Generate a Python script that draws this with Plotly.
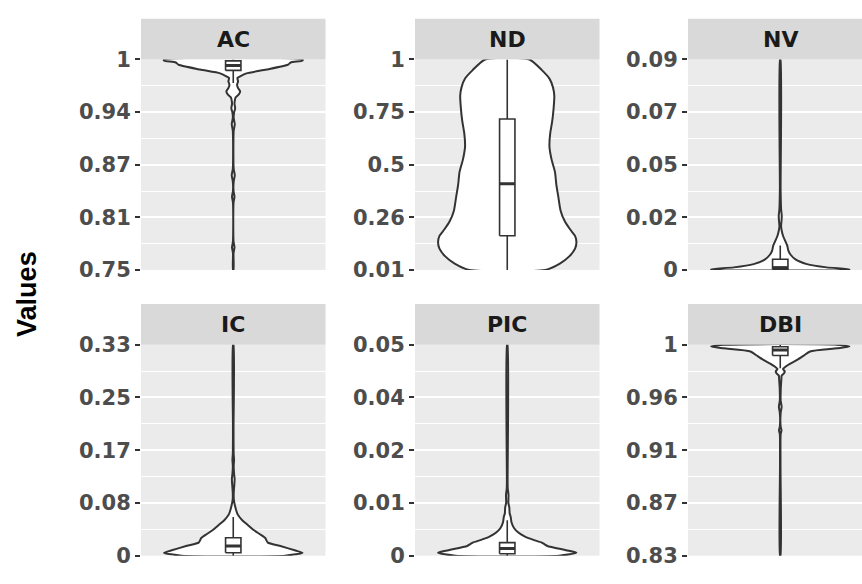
import plotly.graph_objects as go
import numpy as np

# ---- facet data: violin outline (value, relative half-width) and box statistics ----
panel_names = ["AC", "ND", "NV", "IC", "PIC", "DBI"]

ac_range = [0.75, 1.0]
ac_ticktext = ["0.75", "0.81", "0.87", "0.94", "1"]
ac_values = [0.750, 0.770, 0.777, 0.784, 0.830, 0.837, 0.844, 0.855, 0.8626, 0.870,
             0.915, 0.923, 0.931, 0.937, 0.942, 0.947, 0.950, 0.955, 0.9585, 0.962,
             0.966, 0.970, 0.974, 0.978, 0.980, 0.9835, 0.988, 0.9937, 0.9964, 0.9986, 1.0]
ac_widths = [0.004, 0.004, 0.018, 0.004, 0.004, 0.018, 0.004, 0.006, 0.022, 0.006,
             0.006, 0.022, 0.006, 0.012, 0.028, 0.018, 0.02, 0.035, 0.08, 0.10,
             0.07, 0.055, 0.07, 0.06, 0.10, 0.19, 0.48, 0.79, 0.83, 1.0, 1.0]
ac_box = dict(lower=0.972, q1=0.9870, median=0.9928, q3=0.9983, upper=1.0)

nd_range = [0.01, 1.0]
nd_ticktext = ["0.01", "0.26", "0.5", "0.75", "1"]
nd_values = [0.01, 0.04, 0.075, 0.11, 0.14, 0.17, 0.20, 0.24, 0.29, 0.35, 0.41,
             0.47, 0.53, 0.59, 0.65, 0.71, 0.77, 0.83, 0.87, 0.91, 0.95, 1.0]
nd_widths = [0.55, 0.76, 0.90, 0.98, 1.0, 0.98, 0.91, 0.83, 0.77, 0.74, 0.71,
             0.69, 0.64, 0.61, 0.62, 0.65, 0.67, 0.68, 0.66, 0.61, 0.50, 0.32]
nd_box = dict(lower=0.01, q1=0.171, median=0.415, q3=0.720, upper=1.0)

nv_range = [0.0, 0.09]
nv_ticktext = ["0", "0.02", "0.05", "0.07", "0.09"]
nv_values = [0.0, 0.0003, 0.0011, 0.0025, 0.0045, 0.0065, 0.0080, 0.0105, 0.0125,
             0.0146, 0.0170, 0.0187, 0.0210, 0.0230, 0.0260, 0.0300, 0.0350, 0.0900]
nv_widths = [0.96, 1.0, 0.67, 0.385, 0.22, 0.15, 0.12, 0.10, 0.07,
             0.04, 0.02, 0.012, 0.018, 0.022, 0.012, 0.008, 0.005, 0.004]
nv_box = dict(lower=0.0, q1=0.0002, median=0.0010, q3=0.0046, upper=0.0105)

ic_range = [0.0, 0.33]
ic_ticktext = ["0", "0.08", "0.17", "0.25", "0.33"]
ic_values = [0.0, 0.0045, 0.008, 0.0155, 0.0205, 0.028, 0.034, 0.0405, 0.048, 0.0555,
             0.0605, 0.0655, 0.072, 0.078, 0.088, 0.100, 0.112, 0.120, 0.128, 0.140,
             0.150, 0.160, 0.200, 0.330]
ic_widths = [0.75, 1.0, 0.90, 0.67, 0.50, 0.46, 0.38, 0.29, 0.21, 0.13,
             0.09, 0.06, 0.04, 0.025, 0.008, 0.008, 0.016, 0.02, 0.012, 0.006,
             0.012, 0.006, 0.004, 0.004]
ic_box = dict(lower=0.0, q1=0.0045, median=0.0150, q3=0.0280, upper=0.0605)

pic_range = [0.0, 0.05]
pic_ticktext = ["0", "0.01", "0.02", "0.04", "0.05"]
pic_values = [0.0, 0.0007, 0.0013, 0.0023, 0.0027, 0.0031, 0.0038, 0.0046, 0.0055,
              0.0065, 0.0080, 0.0092, 0.0100, 0.0114, 0.0125, 0.0144, 0.0160, 0.0180, 0.0500]
pic_widths = [0.75, 1.0, 0.85, 0.58, 0.54, 0.50, 0.37, 0.25, 0.16,
              0.10, 0.06, 0.05, 0.035, 0.03, 0.016, 0.018, 0.007, 0.005, 0.004]
pic_box = dict(lower=0.0, q1=0.00045, median=0.0017, q3=0.0031, upper=0.0084)

dbi_range = [0.83, 1.0]
dbi_ticktext = ["0.83", "0.87", "0.91", "0.96", "1"]
dbi_values = [0.830, 0.900, 0.928, 0.931, 0.934, 0.945, 0.950, 0.955, 0.965, 0.972,
              0.975, 0.977, 0.9785, 0.9805, 0.9825, 0.9848, 0.9880, 0.9913, 0.9946,
              0.9971, 0.9985, 1.0]
dbi_widths = [0.004, 0.004, 0.006, 0.018, 0.006, 0.006, 0.02, 0.006, 0.008, 0.016,
              0.02, 0.055, 0.065, 0.04, 0.08, 0.145, 0.25, 0.34, 0.43,
              0.82, 1.0, 0.82]
dbi_box = dict(lower=0.981, q1=0.9913, median=0.9957, q3=0.9984, upper=1.0)

panels = [
    ("AC", ac_range, ac_ticktext, ac_values, ac_widths, ac_box),
    ("ND", nd_range, nd_ticktext, nd_values, nd_widths, nd_box),
    ("NV", nv_range, nv_ticktext, nv_values, nv_widths, nv_box),
    ("IC", ic_range, ic_ticktext, ic_values, ic_widths, ic_box),
    ("PIC", pic_range, pic_ticktext, pic_values, pic_widths, pic_box),
    ("DBI", dbi_range, dbi_ticktext, dbi_values, dbi_widths, dbi_box),
]

# ---- layout geometry (pixels) ----
W, H = 862, 584
col_px = [(141, 325.5), (415, 599.5), (688, 872.5)]   # third column runs past the right edge
row_px = [(49.5, 269), (347, 567)]                     # (top, bottom) of plotting area
strip_h = 42.5
half_span = 0.45       # violin half-width at maximum density (x units)
box_w = 0.1

line_col = "#333333"
grid_col = "#FFFFFF"
panel_bg = "#EBEBEB"
strip_bg = "#D9D9D9"
tick_font = dict(family="DejaVu Sans", size=21, color="#4D4D4D", weight="bold")
strip_font = dict(family="DejaVu Sans", size=22, color="#1A1A1A", weight="bold")

fig = go.Figure()
layout = dict(
    width=W, height=H,
    margin=dict(l=0, r=0, t=0, b=0),
    paper_bgcolor="white",
    plot_bgcolor=panel_bg,
    showlegend=False,
)
shapes, annotations = [], []

for i, (name, yr, ttext, vals, wids, box) in enumerate(panels):
    r, c = divmod(i, 3)
    ax = "" if i == 0 else str(i + 1)
    xa, ya = "x" + ax, "y" + ax
    x0, x1 = col_px[c]
    y_top, y_bot = row_px[r]
    vis_x1 = min(x1, W)
    xmax = 0.4 + 1.2 * (vis_x1 - x0) / (x1 - x0)

    xd = [x0 / W, vis_x1 / W]
    yd = [(H - y_bot) / H, (H - y_top) / H]

    tickvals = list(np.linspace(yr[0], yr[1], 5))
    minor_vals = [(a + b) / 2 for a, b in zip(tickvals[:-1], tickvals[1:])]

    layout["xaxis" + ax] = dict(
        domain=xd, range=[0.4, xmax], anchor=ya,
        showticklabels=False, showgrid=False, zeroline=False, ticks="",
        fixedrange=True,
    )
    layout["yaxis" + ax] = dict(
        domain=yd, range=yr, anchor=xa,
        tickvals=tickvals, ticktext=ttext, tickfont=tick_font,
        ticks="outside", ticklen=5, tickwidth=1.5, tickcolor=line_col,
        showgrid=True, gridcolor=grid_col, gridwidth=1.5,
        minor=dict(tickvals=minor_vals, showgrid=True, gridcolor=grid_col,
                   gridwidth=0.8, ticks=""),
        zeroline=False, showline=False, fixedrange=True,
    )

    # violin outline: up the left side, down the right side
    v = np.array(vals)
    w = np.array(wids)
    xs = np.concatenate([1 - half_span * w, (1 + half_span * w)[::-1]])
    ys = np.concatenate([v, v[::-1]])
    fig.add_trace(go.Scatter(
        x=np.append(xs, xs[0]), y=np.append(ys, ys[0]),
        mode="lines", fill="toself", fillcolor="white",
        line=dict(color=line_col, width=2, shape="spline", smoothing=0.6),
        xaxis=xa, yaxis=ya, hoverinfo="skip",
    ))

    # whiskers
    fig.add_trace(go.Scatter(
        x=[1, 1, None, 1, 1],
        y=[box["q3"], box["upper"], None, box["q1"], box["lower"]],
        mode="lines", line=dict(color=line_col, width=1.6),
        xaxis=xa, yaxis=ya, hoverinfo="skip",
    ))
    # interquartile box
    bl, br = 1 - box_w / 2, 1 + box_w / 2
    fig.add_trace(go.Scatter(
        x=[bl, br, br, bl, bl],
        y=[box["q1"], box["q1"], box["q3"], box["q3"], box["q1"]],
        mode="lines", fill="toself", fillcolor="white",
        line=dict(color=line_col, width=1.6),
        xaxis=xa, yaxis=ya, hoverinfo="skip",
    ))
    # heavier median bar
    fig.add_trace(go.Scatter(
        x=[bl, br], y=[box["median"], box["median"]],
        mode="lines", line=dict(color=line_col, width=3),
        xaxis=xa, yaxis=ya, hoverinfo="skip",
    ))

    # facet strip
    shapes.append(dict(
        type="rect", xref="paper", yref="paper",
        x0=x0 / W, x1=vis_x1 / W,
        y0=(H - y_top) / H, y1=(H - y_top + strip_h) / H,
        fillcolor=strip_bg, line=dict(width=0), layer="below",
    ))
    annotations.append(dict(
        text=name, xref="paper", yref="paper",
        x=(x0 + x1) / 2 / W, y=(H - y_top + strip_h / 2) / H,
        xanchor="center", yanchor="middle", showarrow=False, font=strip_font,
    ))

annotations.append(dict(
    text="Values", xref="paper", yref="paper",
    x=27 / W, y=(H - 294) / H, textangle=-90,
    xanchor="center", yanchor="middle", showarrow=False,
    font=dict(family="Liberation Sans", size=27, color="black", weight="bold"),
))

layout["shapes"] = shapes
layout["annotations"] = annotations
fig.update_layout(**layout)
fig.write_html("out.html", config={"displayModeBar": False})
